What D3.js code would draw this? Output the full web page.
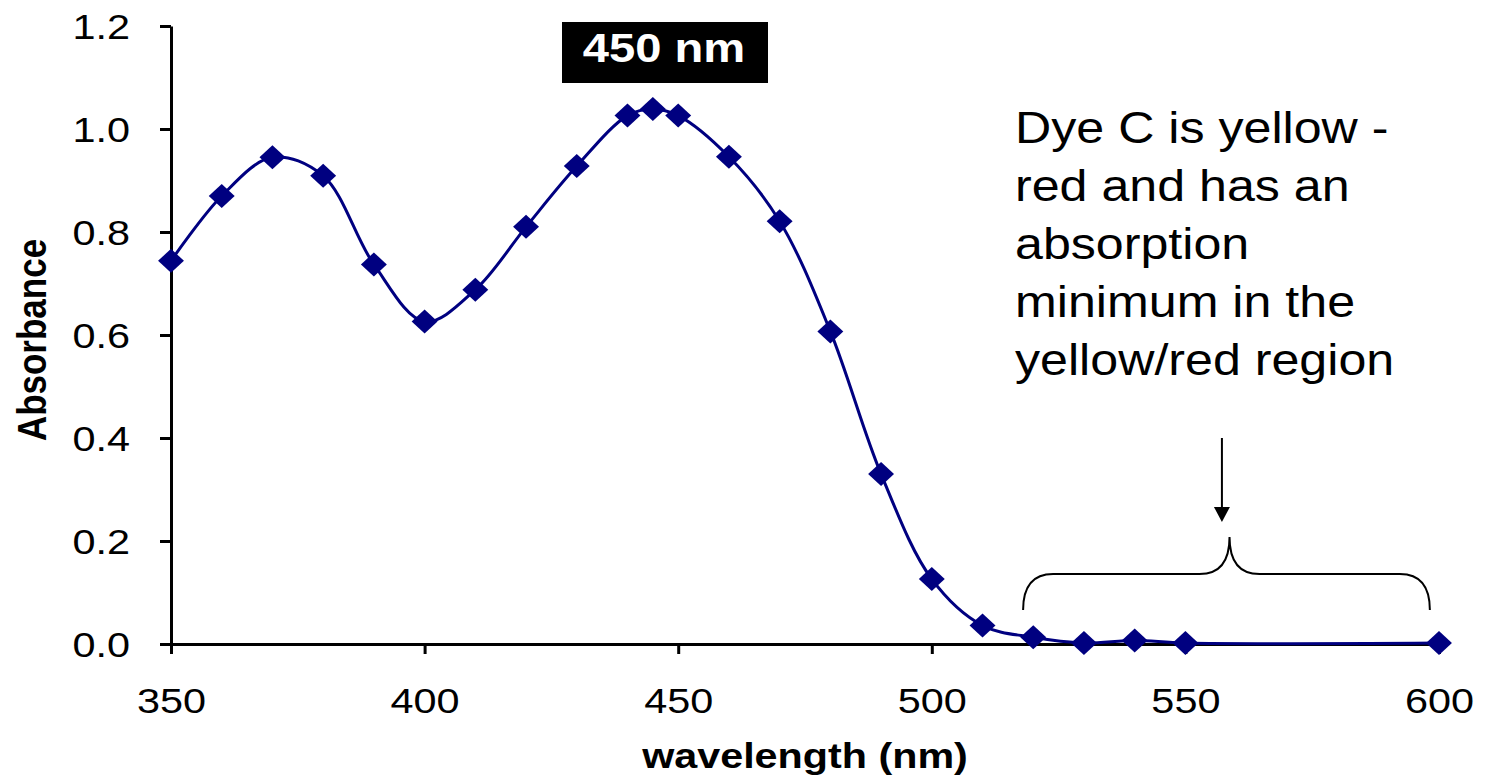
<!DOCTYPE html>
<html><head><meta charset="utf-8">
<script src="https://cdn.jsdelivr.net/npm/d3@7"></script>
<style>body{margin:0;background:#fff} svg{display:block} text{font-family:Arial,"Liberation Sans",sans-serif}</style>
</head><body><svg id="c" width="1486" height="780"></svg>
<script>
// ---- data ----
const wavelengths = [350,360,370,380,390,400,410,420,430,440,445,450,460,470,480,490,500,510,520,530,540,550,600];
const absorbance  = [0.744,0.870,0.945,0.909,0.737,0.626,0.688,0.810,0.928,1.026,1.039,1.026,0.946,0.821,0.607,0.330,0.126,0.036,0.013,0.002,0.007,0.002,0.002];
const xTicks = [350,400,450,500,550,600];
const yTicks = [0,0.2,0.4,0.6,0.8,1.0,1.2];
const peakLabel = "450 nm";
const noteLines = ["Dye C is yellow -","red and has an","absorption","minimum in the","yellow/red region"];
const xTitle = "wavelength (nm)";
const yTitle = "Absorbance";
// brace / arrow annotation in data units
const brace = {x0:518, x1:598.2, xm:558.7, yEnd:0.066, yBar:0.136, yTip:0.208};
const arrow = {x:557.2, yFrom:0.40, yTo:0.237};

// ---- layout ----
const S = 1.15; // horizontal glyph stretch seen in the reference
const svg = d3.select("#c");
const x = d3.scaleLinear().domain([350,600]).range([171,1439]);
const y = d3.scaleLinear().domain([0,1.2]).range([644,26]);
const navy = "#000080";

// axes
const gx = svg.append("g").attr("transform","translate(0,644)")
  .call(d3.axisBottom(x).tickValues(xTicks).tickSize(10).tickSizeOuter(0).tickFormat(d3.format("d")));
gx.selectAll("text").attr("y",69).attr("dy",null).attr("font-size",36).attr("fill","#000")
  .attr("font-family","Arial, 'Liberation Sans', sans-serif").attr("transform",`scale(${S},1)`);
const gy = svg.append("g").attr("transform","translate(171,0)")
  .call(d3.axisLeft(y).tickValues(yTicks).tickSize(11).tickSizeOuter(0).tickFormat(d3.format(".1f")));
gy.selectAll("text").attr("x",-41/S).attr("dy","0.36em").attr("font-size",36).attr("fill","#000")
  .attr("font-family","Arial, 'Liberation Sans', sans-serif").attr("transform",`scale(${S},1)`);
[gx,gy].forEach(g=>{
  g.select(".domain").attr("stroke","#000").attr("stroke-width",3);
  g.selectAll(".tick line").attr("stroke","#000").attr("stroke-width",3);
});

// titles
svg.append("text").attr("transform",`translate(805,768) scale(1.18,1)`)
  .attr("text-anchor","middle").attr("font-size",35).attr("font-weight","bold").text(xTitle);
svg.append("text").attr("transform",`translate(46,340) scale(1.18,1) rotate(-90)`)
  .attr("text-anchor","middle").attr("font-size",35).attr("font-weight","bold").text(yTitle);

// series
const pts = wavelengths.map((w,i)=>[w,absorbance[i]]);
svg.append("path").datum(pts)
  .attr("d", d3.line().x(d=>x(d[0])).y(d=>y(d[1])).curve(d3.curveCatmullRom.alpha(0.5)))
  .attr("fill","none").attr("stroke",navy).attr("stroke-width",3);
const diamond = {draw(ctx,size){const w=Math.sqrt(size)/2*1.08, h=Math.sqrt(size)/2;
  ctx.moveTo(0,-h);ctx.lineTo(w,0);ctx.lineTo(0,h);ctx.lineTo(-w,0);ctx.closePath();}};
svg.append("g").selectAll("path").data(pts).join("path")
  .attr("transform",d=>`translate(${x(d[0])},${y(d[1])})`)
  .attr("d", d3.symbol().type(diamond).size(576)).attr("fill",navy);

// peak label
svg.append("rect").attr("x",562).attr("y",22).attr("width",206).attr("height",61).attr("fill","#000");
svg.append("text").attr("transform",`translate(664,62) scale(1.15,1)`).attr("text-anchor","middle")
  .attr("font-size",41).attr("font-weight","bold").attr("fill","#fff").text(peakLabel);

// note
const note = svg.append("text").attr("transform",`translate(1015,143) scale(1.115,1)`).attr("font-size",45).attr("fill","#000");
note.selectAll("tspan").data(noteLines).join("tspan").attr("x",0).attr("y",(d,i)=>i*58).text(d=>d);

// brace
const bx0=x(brace.x0), bx1=x(brace.x1), bxm=x(brace.xm), byE=y(brace.yEnd), byB=y(brace.yBar), byT=y(brace.yTip), r=30;
const bp = d3.path();
bp.moveTo(bx0,byE); bp.quadraticCurveTo(bx0,byB,bx0+r,byB); bp.lineTo(bxm-r,byB);
bp.quadraticCurveTo(bxm,byB,bxm,byT); bp.quadraticCurveTo(bxm,byB,bxm+r,byB);
bp.lineTo(bx1-r,byB); bp.quadraticCurveTo(bx1,byB,bx1,byE);
svg.append("path").attr("d",bp.toString()).attr("fill","none").attr("stroke","#000").attr("stroke-width",2);

// arrow
const ax=x(arrow.x), ay0=y(arrow.yFrom), ay1=y(arrow.yTo);
svg.append("line").attr("x1",ax).attr("x2",ax).attr("y1",ay0).attr("y2",ay1-12).attr("stroke","#000").attr("stroke-width",2);
const ah = d3.path(); ah.moveTo(ax,ay1); ah.lineTo(ax-8,ay1-15); ah.lineTo(ax+8,ay1-15); ah.closePath();
svg.append("path").attr("d",ah.toString()).attr("fill","#000");
</script></body></html>
